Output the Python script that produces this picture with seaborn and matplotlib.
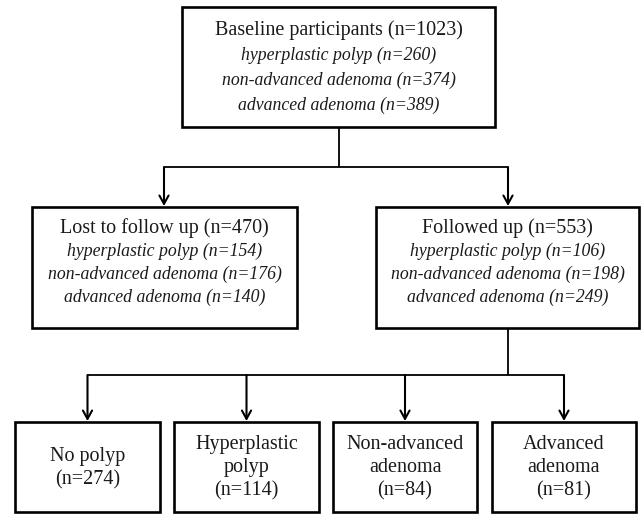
import matplotlib
matplotlib.use("Agg")
import matplotlib.pyplot as plt
from matplotlib.patches import Rectangle
import seaborn as sns

sns.set_style("white")
plt.rcParams["font.family"] = ["Liberation Serif", "DejaVu Serif"]

# ---- data ----
groups = ["hyperplastic polyp", "non-advanced adenoma", "advanced adenoma"]
baseline_total = 1023
baseline_counts = [260, 374, 389]
lost_total = 470
lost_counts = [154, 176, 140]
followed_total = 553
followed_counts = [106, 198, 249]
outcome_labels = ["No polyp", "Hyperplastic\npolyp", "Non-advanced\nadenoma", "Advanced\nadenoma"]
outcome_counts = [274, 114, 84, 81]

# ---- layout (pixel space, y downward) ----
W, H = 641, 514
fig = plt.figure(figsize=(W / 100, H / 100), dpi=100)
ax = fig.add_axes([0, 0, 1, 1])
ax.set_xlim(0, W)
ax.set_ylim(H, 0)
ax.axis("off")

BOX_LW = 1.9
LINE_LW = 1.3
TITLE_FS = 14.5
ITAL_FS = 12.8
TXT = "#1a1a1a"


def box(x0, y0, x1, y1):
    ax.add_patch(Rectangle((x0, y0), x1 - x0, y1 - y0, fill=False,
                           edgecolor="black", linewidth=BOX_LW, zorder=3))


def line(xs, ys):
    ax.plot(xs, ys, color="black", linewidth=LINE_LW, solid_capstyle="butt",
            zorder=2)


def arrow(x, y0, y1):
    ax.annotate("", xy=(x, y1), xytext=(x, y0),
                arrowprops=dict(arrowstyle="->,head_length=0.6,head_width=0.33",
                                color="black", lw=LINE_LW + 0.2,
                                shrinkA=0, shrinkB=0), zorder=2)


def group_box(x0, y0, x1, y1, title, counts, rows):
    box(x0, y0, x1, y1)
    cx = (x0 + x1) / 2
    ax.text(cx, rows[0], title, ha="center", va="center", fontsize=TITLE_FS,
            color=TXT)
    for g, c, yy in zip(groups, counts, rows[1:]):
        ax.text(cx, yy, f"{g} (n={c})", ha="center", va="center",
                fontsize=ITAL_FS, style="italic", color=TXT)


# top box
group_box(182, 7, 495, 127, f"Baseline participants (n={baseline_total})",
          baseline_counts, [30, 55, 80, 105])

# connector 1
line([338.5, 338.5], [127, 167])
line([164, 508], [167, 167])
arrow(164, 167, 206)
arrow(508, 167, 206)

# middle boxes
group_box(32, 207, 297, 328, f"Lost to follow up (n={lost_total})",
          lost_counts, [228, 251, 274, 297])
group_box(376, 207, 639, 328, f"Followed up (n={followed_total})",
          followed_counts, [228, 251, 274, 297])

# connector 2
bx = [(15, 160), (174, 319), (333, 477), (492, 636)]
centers = [(a + b) / 2 for a, b in bx]
line([508, 508], [328, 375])
line([centers[0], centers[-1]], [375, 375])
for c in centers:
    arrow(c, 375, 421)

# bottom boxes
for (x0, x1), lab, n in zip(bx, outcome_labels, outcome_counts):
    box(x0, 422, x1, 512)
    ax.text((x0 + x1) / 2, 468, f"{lab}\n(n={n})", ha="center", va="center",
            fontsize=TITLE_FS, linespacing=1.3, color=TXT)

fig.savefig("out.png", dpi=100, facecolor="white")
